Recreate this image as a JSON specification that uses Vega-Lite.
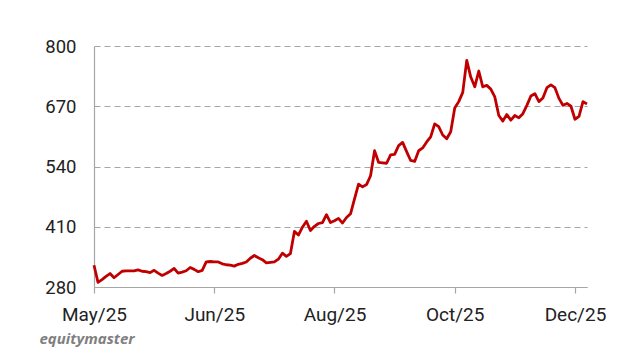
{
  "$schema": "https://vega.github.io/schema/vega-lite/v6.json",
  "width": 493,
  "height": 241,
  "autosize": "none",
  "padding": {"left": 94, "top": 46, "right": 33, "bottom": 63},
  "background": "white",
  "config": {"view": {"stroke": null}, "font": "Roboto"},
  "data": {"values": [
    {"i":0,"v":327},{"i":1,"v":290},{"i":2,"v":296},{"i":3,"v":303},{"i":4,"v":309},{"i":5,"v":300},{"i":6,"v":307},{"i":7,"v":314},{"i":8,"v":315},{"i":9,"v":315},
    {"i":10,"v":315},{"i":11,"v":317},{"i":12,"v":314},{"i":13,"v":313},{"i":14,"v":311},{"i":15,"v":316},{"i":16,"v":310},{"i":17,"v":305},{"i":18,"v":309},{"i":19,"v":314},
    {"i":20,"v":320},{"i":21,"v":310},{"i":22,"v":312},{"i":23,"v":315},{"i":24,"v":322},{"i":25,"v":318},{"i":26,"v":313},{"i":27,"v":316},{"i":28,"v":334},{"i":29,"v":335},
    {"i":30,"v":334},{"i":31,"v":334},{"i":32,"v":330},{"i":33,"v":328},{"i":34,"v":327},{"i":35,"v":325},{"i":36,"v":329},{"i":37,"v":331},{"i":38,"v":334},{"i":39,"v":342},
    {"i":40,"v":348},{"i":41,"v":343},{"i":42,"v":339},{"i":43,"v":332},{"i":44,"v":333},{"i":45,"v":334},{"i":46,"v":340},{"i":47,"v":353},{"i":48,"v":346},{"i":49,"v":352},
    {"i":50,"v":400},{"i":51,"v":392},{"i":52,"v":409},{"i":53,"v":422},{"i":54,"v":402},{"i":55,"v":411},{"i":56,"v":417},{"i":57,"v":419},{"i":58,"v":436},{"i":59,"v":419},
    {"i":60,"v":423},{"i":61,"v":428},{"i":62,"v":418},{"i":63,"v":430},{"i":64,"v":438},{"i":65,"v":470},{"i":66,"v":502},{"i":67,"v":496},{"i":68,"v":501},{"i":69,"v":520},
    {"i":70,"v":574},{"i":71,"v":549},{"i":72,"v":548},{"i":73,"v":547},{"i":74,"v":565},{"i":75,"v":566},{"i":76,"v":585},{"i":77,"v":592},{"i":78,"v":572},{"i":79,"v":553},
    {"i":80,"v":551},{"i":81,"v":574},{"i":82,"v":580},{"i":83,"v":593},{"i":84,"v":604},{"i":85,"v":632},{"i":86,"v":626},{"i":87,"v":608},{"i":88,"v":600},{"i":89,"v":615},
    {"i":90,"v":666},{"i":91,"v":680},{"i":92,"v":700},{"i":93,"v":769},{"i":94,"v":733},{"i":95,"v":712},{"i":96,"v":746},{"i":97,"v":712},{"i":98,"v":715},{"i":99,"v":707},
    {"i":100,"v":690},{"i":101,"v":650},{"i":102,"v":638},{"i":103,"v":652},{"i":104,"v":640},{"i":105,"v":650},{"i":106,"v":645},{"i":107,"v":654},{"i":108,"v":672},{"i":109,"v":692},
    {"i":110,"v":697},{"i":111,"v":680},{"i":112,"v":688},{"i":113,"v":710},{"i":114,"v":716},{"i":115,"v":710},{"i":116,"v":687},{"i":117,"v":672},{"i":118,"v":676},{"i":119,"v":670},
    {"i":120,"v":642},{"i":121,"v":648},{"i":122,"v":680},{"i":123,"v":675}
  ]},
  "mark": {"type": "line", "color": "#c00000", "strokeWidth": 2.8, "strokeJoin": "round"},
  "encoding": {
    "x": {
      "field": "i", "type": "quantitative",
      "scale": {"domain": [0, 123], "nice": false, "zero": false},
      "axis": {
        "values": [0, 30, 60, 90, 120],
        "labelExpr": "datum.value == 0 ? 'May/25' : datum.value == 30 ? 'Jun/25' : datum.value == 60 ? 'Aug/25' : datum.value == 90 ? 'Oct/25' : 'Dec/25'",
        "grid": false,
        "domainColor": "#a6a6a6", "domainWidth": 1.2,
        "tickColor": "#a6a6a6", "tickSize": 6, "tickWidth": 1.2,
        "labelFont": "Roboto", "labelFontSize": 19, "labelColor": "#222222", "labelPadding": 12,
        "labelFlush": false, "labelOverlap": false,
        "title": "equitymaster",
        "titleFont": "Open Sans", "titleFontSize": 15, "titleFontStyle": "italic", "titleFontWeight": "bold",
        "titleColor": "#7f7f7f", "titleAlign": "left", "titleAnchor": "start", "titleBaseline": "alphabetic",
        "titleX": -55, "titleY": 56
      }
    },
    "y": {
      "field": "v", "type": "quantitative",
      "scale": {"domain": [280, 800], "nice": false, "zero": false},
      "axis": {
        "values": [280, 410, 540, 670, 800],
        "title": null,
        "grid": true, "gridColor": "#a6a6a6", "gridDash": [6, 4], "gridWidth": 1.2,
        "domainColor": "#a6a6a6", "domainWidth": 1.2,
        "ticks": false,
        "labelFont": "Roboto", "labelFontSize": 18.5, "labelColor": "#222222", "labelPadding": 18
      }
    }
  }
}
